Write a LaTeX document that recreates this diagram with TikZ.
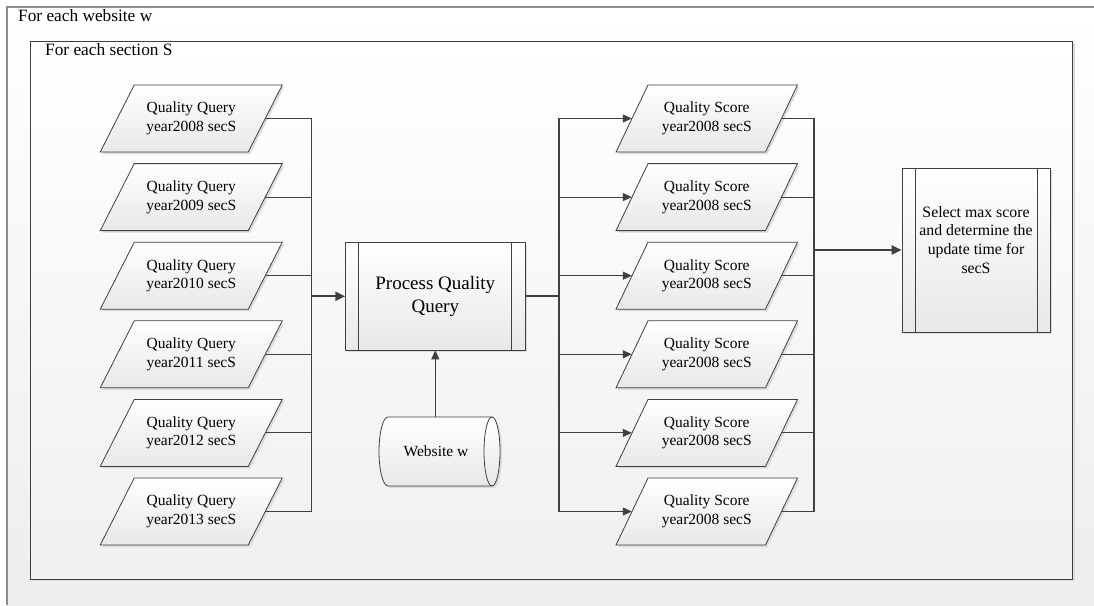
\documentclass[tikz,border=0pt]{standalone}
\usepackage{fontspec}
\setmainfont{Liberation Serif}
\usetikzlibrary{arrows.meta,shadows,backgrounds,calc}
\definecolor{ln}{HTML}{404040}
\begin{document}
\begin{tikzpicture}[x=1pt,y=-1pt,
  every node/.style={font=\fontsize{15.5}{18.5}\selectfont, text=black},
  txt/.style={minimum width=148pt, minimum height=67pt, inner sep=0pt, align=center},
  shd/.style={drop shadow={shadow xshift=2pt, shadow yshift=-2pt, fill=black!14, opacity=1}},
  pg/.style={draw=ln, line width=0.8pt, top color=white, bottom color=black!9, shd},
  proc/.style={draw=ln, line width=0.8pt, top color=white, bottom color=black!9, shd, inner sep=0pt, align=center},
  conn/.style={draw=ln, line width=1.1pt},
  arr/.style={conn, -{Triangle[length=9pt,width=8pt]}},
  bigline/.style={draw=ln, line width=2.2pt},
  bigarr/.style={bigline, -{Triangle[length=10pt,width=9pt]}},
  lab/.style={anchor=base west, inner sep=0pt, font=\fontsize{17.3}{20}\selectfont}
]
\useasboundingbox (0,0) rectangle (1094,605);

% frames
\begin{scope}[on background layer]
  \fill[top color=white, bottom color=black!7] (7,7) rectangle (1094,605);
  \draw[draw=black!45, line width=1.5pt] (7,605) -- (7,7) -- (1094,7);
  \draw[draw=ln, line width=1pt, top color=white, bottom color=black!6, shd] (30,41) rectangle (1072.7,579);
\end{scope}

\node[lab] (lw) at (18,21.7) {For each website w};
\node[lab] (ls) at (45,55) {For each section S};

% query inputs
\foreach \i/\yr in {1/2008,2/2009,3/2010,4/2011,5/2012,6/2013} {
  \node[txt] (q\i) at (191.25, {118.5+78.6*(\i-1)}) {Quality Query\\year\yr{} secS};
}
% score outputs
\foreach \i in {1,...,6} {
  \node[txt, minimum width=149.5pt] (s\i) at (706.75, {118.5+78.6*(\i-1)}) {Quality Score\\year2008 secS};
}
\begin{scope}[on background layer]
  \foreach \i in {1,...,6} {
    \draw[pg] ([shift={(-57,-33.5)}]q\i.center) -- ++(148,0) -- ++(-34,67) -- ++(-148,0) -- cycle;
    \draw[pg] ([shift={(-58.75,-33.5)}]s\i.center) -- ++(149.5,0) -- ++(-32,67) -- ++(-149.5,0) -- cycle;
  }
\end{scope}

% process box
\node[proc, minimum width=179.3pt, minimum height=107.3pt, font=\fontsize{19}{23}\selectfont] (p) at (435.3,296.3) {Process Quality\\Query};
\draw[draw=ln, line width=0.8pt] ([xshift=13.5pt]p.north west) -- ([xshift=13.5pt]p.south west);
\draw[draw=ln, line width=0.8pt] ([xshift=-13.5pt]p.north east) -- ([xshift=-13.5pt]p.south east);

% select box
\node[proc, minimum width=148pt, minimum height=164pt] (sel) at (976,250) {};
\draw[draw=ln, line width=0.8pt] ([xshift=13.5pt]sel.north west) -- ([xshift=13.5pt]sel.south west);
\draw[draw=ln, line width=0.8pt] ([xshift=-13.5pt]sel.north east) -- ([xshift=-13.5pt]sel.south east);
\node[align=center, inner sep=0pt, font=\fontsize{15.8}{18.9}\selectfont] (selt) at (976,240) {Select max score\\and determine the\\update time for\\secS};

% website cylinder
\node[minimum width=104pt, minimum height=69pt, inner sep=0pt] (w) at (436,451.5) {Website w};
\begin{scope}[on background layer]
  \draw[pg] ([shift={(-48,-34.5)}]w.center) -- ++(104,0)
     arc[start angle=-90, end angle=90, x radius=8, y radius=34.5]
     -- ++(-104,0)
     arc[start angle=90, end angle=270, x radius=9, y radius=34.5] -- cycle;
  \draw[draw=ln, line width=0.8pt] ([shift={(56,-34.5)}]w.center)
     arc[start angle=270, end angle=90, x radius=8, y radius=34.5];
\end{scope}

% connectors
\coordinate (lb) at (311.5,296.3);
\coordinate (rb) at (559,296.3);
\coordinate (rb2) at (814.3,250);
\foreach \i in {1,...,6} {
  \draw[conn] (q\i.east) -| (lb);
  \draw[arr] (rb) |- (s\i.west);
  \draw[conn] (s\i.east) -| (rb2);
}
\draw[draw=ln, line width=1.8pt] (q1.east -| lb) -- (q6.east -| lb);
\draw[draw=ln, line width=1.8pt] (s1.west -| rb) -- (s6.west -| rb);
\draw[draw=ln, line width=1.8pt] (s1.east -| rb2) -- (s6.east -| rb2);
\draw[bigarr] (lb) -- (p.west);
\draw[bigline] (p.east) -- (rb);
\draw[bigarr] (rb2) -- (sel.west);
\draw[arr, line width=1.3pt] (p.south |- w.north) -- (p.south);
\end{tikzpicture}
\end{document}
